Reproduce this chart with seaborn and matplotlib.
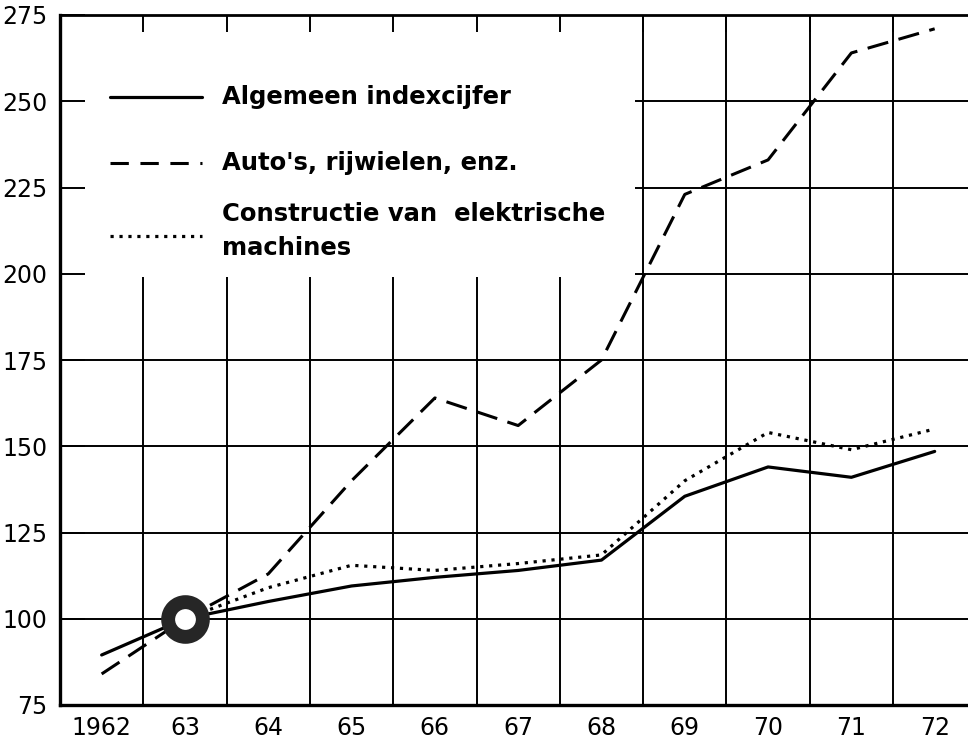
import numpy as np
import pandas as pd
import matplotlib
matplotlib.use('Agg')
import matplotlib.pyplot as plt
import seaborn as sns

# Data (index, 1963 = 100)
years = [1962, 1963, 1964, 1965, 1966, 1967, 1968, 1969, 1970, 1971, 1972]
algemeen = [89.5, 100, 105, 109.5, 112, 114, 117, 135.5, 144, 141, 148.5]
autos = [84, 100, 113, 140, 164, 156, 175, 223, 233, 264, 271]
elek_years = [1963, 1964, 1965, 1966, 1967, 1968, 1969, 1970, 1971, 1972]
elektrisch = [100, 109, 115.5, 114, 116, 118.5, 140, 154, 149, 155]

year_labels = ['1962', '63', '64', '65', '66', '67', '68', '69', '70', '71', '72']
y_ticks = [75, 100, 125, 150, 175, 200, 225, 250, 275]
labels = ['Algemeen indexcijfer', "Auto's, rijwielen, enz.",
          'Constructie van  elektrische', 'machines']

sns.set_style('white')
plt.rcParams['font.family'] = ['DejaVu Sans']
plt.rcParams['text.color'] = 'black'
plt.rcParams['xtick.color'] = 'black'
plt.rcParams['ytick.color'] = 'black'

fig = plt.figure(figsize=(9.68, 7.41), dpi=100)
ax = fig.add_axes([60 / 968, 1 - 705 / 741, 908 / 968, 690 / 741])
ax.set_xlim(1961.5, 1972.4)
ax.set_ylim(75, 275)

# grid: blank area behind the legend (upper left)
box_x, box_y = 1968.4, 199
half_years = [y + 0.5 for y in years[:-1]]
for x in half_years:
    y0 = 275 if x > box_x else box_y
    ax.vlines(x, 75, y0, color='black', lw=1.4, zorder=1)
for y in y_ticks[1:-1]:
    x0 = box_x if y >= 200 else 1961.5
    ax.hlines(y, x0, 1972.4, color='black', lw=1.4, zorder=1)

sns.lineplot(x=years, y=algemeen, ax=ax, color='black', lw=2.3, zorder=4)
sns.lineplot(x=years, y=autos, ax=ax, color='black', lw=2.2,
             linestyle=(0, (7, 3.5)), zorder=4)
sns.lineplot(x=elek_years, y=elektrisch, ax=ax, color='black', lw=2.3,
             linestyle=(0, (1, 1.8)), zorder=4)

# base year ring
ax.plot([years[1]], [algemeen[1]], marker='o', ms=25, mew=10,
        mfc='white', mec='#262626', zorder=5)

# legend drawn by hand
hx = [1962.1, 1963.2]
ax.plot(hx, [251.3, 251.3], color='black', lw=2.3)
ax.plot(hx, [232, 232], color='black', lw=2.2, linestyle=(0, (6, 3.8)))
ax.plot(hx, [210.8, 210.8], color='black', lw=2.3, linestyle=(0, (1, 1.8)))
tx = 1963.45
txt = dict(fontsize=17.5, fontweight='bold', va='center', ha='left', color='black')
ax.text(tx, 251.3, labels[0], **txt)
ax.text(tx, 232, labels[1], **txt)
ax.text(tx, 217.2, labels[2], **txt)
ax.text(tx, 207.5, labels[3], **txt)

# ticks
ax.set_xticks(half_years)
ax.set_xticks(years, minor=True)
ax.set_xticklabels(year_labels, minor=True)
ax.tick_params(axis='x', which='major', bottom=False, top=True, labelbottom=False,
               direction='in', length=12, width=1.4)
ax.tick_params(axis='x', which='minor', bottom=True, length=0, labelsize=17, pad=8)
ax.set_yticks(y_ticks)
ax.tick_params(axis='y', left=True, direction='in', length=18, width=1.4,
               labelsize=17, pad=9)

for side in ['left', 'bottom']:
    ax.spines[side].set_linewidth(2.4)
ax.spines['top'].set_linewidth(2)
ax.spines['right'].set_visible(False)
for s in ax.spines.values():
    s.set_color('black')

fig.savefig('out.png', dpi=100)
